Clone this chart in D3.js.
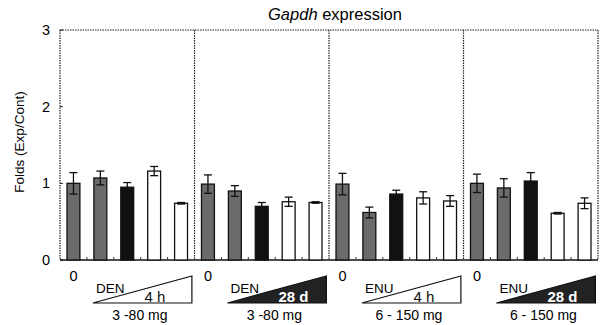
<!doctype html>
<html>
<head>
<meta charset="utf-8">
<script src="https://d3js.org/d3.v7.min.js"></script>
<style>
  body { margin: 0; background: #fff; }
  text { font-family: Arial, "Liberation Sans", sans-serif; }
</style>
</head>
<body>
<svg width="602" height="325"></svg>
<script>
// data
var agents = ["DEN", "DEN", "ENU", "ENU"];
var times = ["4 h", "28 d", "4 h", "28 d"];
var doses = ["3 -80 mg", "3 -80 mg", "6 - 150 mg", "6 - 150 mg"];
var doseSteps = ["0", "d1", "d2", "d3", "d4"];
var yTicks = [0, 1, 2, 3];

var den4h  = [1.00, 1.07, 0.95, 1.16, 0.74];
var den28d = [0.99, 0.90, 0.70, 0.76, 0.75];
var enu4h  = [0.99, 0.62, 0.86, 0.81, 0.77];
var enu28d = [1.00, 0.94, 1.03, 0.61, 0.74];

var den4hErr  = [0.14, 0.09, 0.06, 0.06, 0.01];
var den28dErr = [0.12, 0.07, 0.05, 0.06, 0.01];
var enu4hErr  = [0.14, 0.07, 0.05, 0.08, 0.07];
var enu28dErr = [0.12, 0.12, 0.11, 0.01, 0.07];

var means = [den4h, den28d, enu4h, enu28d];
var errs = [den4hErr, den28dErr, enu4hErr, enu28dErr];

var barFill = ["#6b6b6b", "#6b6b6b", "#111", "#fff", "#fff"];

var svg = d3.select("svg"),
    plotL = 60, plotR = 598, plotT = 30, plotB = 260;

var y = d3.scaleLinear().domain([0, 3]).range([plotB, plotT]);
var px = d3.scaleBand().domain(d3.range(4)).range([plotL, plotR]);
var bx = d3.scaleBand().domain(doseSteps).range([0, px.bandwidth()])
           .paddingInner(0.52).paddingOuter(0.26);

// title
var title = svg.append("text")
   .attr("x", 335).attr("y", 20)
   .attr("text-anchor", "middle")
   .attr("font-size", "16.5px");
title.append("tspan").attr("font-style", "italic").text("Gapdh");
title.append("tspan").text(" expression");

// y axis title
svg.append("text")
   .attr("transform", "translate(24,142) rotate(-90)")
   .attr("text-anchor", "middle")
   .attr("font-size", "13.5px")
   .text("Folds (Exp/Cont)");

// y tick labels + ticks
svg.selectAll(".ylab")
   .data(yTicks)
   .enter().append("text")
   .attr("x", 50)
   .attr("y", function(d) { return y(d) + 5; })
   .attr("text-anchor", "end")
   .attr("font-size", "14.5px")
   .text(function(d) { return d; });
svg.selectAll(".ytick")
   .data(yTicks)
   .enter().append("line")
   .attr("x1", plotL).attr("x2", plotL + 3)
   .attr("y1", function(d) { return y(d); })
   .attr("y2", function(d) { return y(d); })
   .attr("stroke", "#222");

// frame (dotted)
var frame = svg.append("g")
   .attr("stroke", "#222")
   .attr("stroke-width", 1.2)
   .attr("stroke-dasharray", "1.5,1")
   .attr("fill", "none");
frame.append("line").attr("x1", plotL).attr("x2", plotR).attr("y1", plotT).attr("y2", plotT)
     .attr("stroke-dasharray", null).attr("stroke", "#222");
frame.selectAll(".sep")
     .data(d3.range(5))
     .enter().append("line")
     .attr("x1", function(d) { return d < 4 ? px(d) : plotR; })
     .attr("x2", function(d) { return d < 4 ? px(d) : plotR; })
     .attr("y1", plotT).attr("y2", plotB);

// baseline
svg.append("line")
   .attr("x1", plotL).attr("x2", plotR)
   .attr("y1", plotB).attr("y2", plotB)
   .attr("stroke", "#111").attr("stroke-width", 1.3);

means.forEach(function(vals, p) {
    var g = svg.append("g").attr("transform", "translate(" + px(p) + ",0)");

    // small ticks between bars
    g.selectAll(".mt")
     .data(doseSteps.slice(1))
     .enter().append("line")
     .attr("x1", function(d) { return bx(d) - bx.step() * 0.26; })
     .attr("x2", function(d) { return bx(d) - bx.step() * 0.26; })
     .attr("y1", plotB).attr("y2", plotB - 3)
     .attr("stroke", "#333");

    g.selectAll(".bar")
     .data(vals)
     .enter().append("rect")
     .attr("x", function(d, i) { return bx(doseSteps[i]); })
     .attr("y", function(d) { return y(d); })
     .attr("width", bx.bandwidth())
     .attr("height", function(d) { return plotB - y(d); })
     .attr("fill", function(d, i) { return barFill[i]; })
     .attr("stroke", "#111")
     .attr("stroke-width", 1.3);

    // error bars
    var eb = g.selectAll(".err")
     .data(vals)
     .enter().append("g")
     .attr("stroke", "#111")
     .attr("stroke-width", 1.3);
    eb.append("line")
      .attr("x1", function(d, i) { return bx(doseSteps[i]) + bx.bandwidth() / 2; })
      .attr("x2", function(d, i) { return bx(doseSteps[i]) + bx.bandwidth() / 2; })
      .attr("y1", function(d, i) { return y(d - errs[p][i]); })
      .attr("y2", function(d, i) { return y(d + errs[p][i]); });
    [-1, 1].forEach(function(s) {
        eb.append("line")
          .attr("x1", function(d, i) { return bx(doseSteps[i]) + bx.bandwidth() / 2 - 4; })
          .attr("x2", function(d, i) { return bx(doseSteps[i]) + bx.bandwidth() / 2 + 4; })
          .attr("y1", function(d, i) { return y(d + s * errs[p][i]); })
          .attr("y2", function(d, i) { return y(d + s * errs[p][i]); });
    });

    // "0" label under control bar
    g.append("text")
     .attr("x", bx(doseSteps[0]) + bx.bandwidth() / 2)
     .attr("y", 281)
     .attr("text-anchor", "middle")
     .attr("font-size", "14.5px")
     .text("0");

    // dose triangle
    var tx0 = bx(doseSteps[1]) - 1, tx1 = tx0 + 99;
    var dark = times[p] === "28 d";
    g.append("path")
     .attr("d", "M" + tx0 + ",303L" + tx1 + ",303L" + tx1 + ",276Z")
     .attr("fill", dark ? "#222" : "#fff")
     .attr("stroke", "#111")
     .attr("stroke-width", 1.2);

    g.append("text")
     .attr("x", tx0 + 3).attr("y", 293)
     .attr("font-size", "13.5px")
     .text(agents[p]);

    g.append("text")
     .attr("x", tx0 + (dark ? 66 : 62)).attr("y", 302)
     .attr("text-anchor", "middle")
     .attr("font-size", "15px")
     .attr("font-weight", dark ? "bold" : "normal")
     .attr("fill", dark ? "#fff" : "#111")
     .text(times[p]);

    g.append("text")
     .attr("x", tx0 + 47).attr("y", 320)
     .attr("text-anchor", "middle")
     .attr("font-size", "14px")
     .text(doses[p]);
});
</script>
</body>
</html>
